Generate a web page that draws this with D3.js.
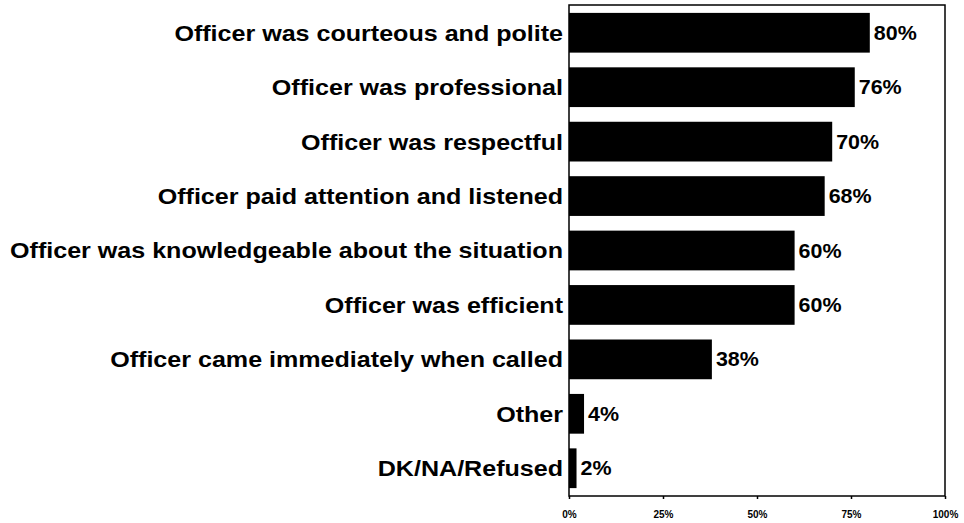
<!DOCTYPE html>
<html>
<head>
<meta charset="utf-8">
<script src="https://cdn.jsdelivr.net/npm/d3@7"></script>
<style>
  html, body { margin: 0; padding: 0; background: #fff; }
  svg { display: block; }
  text { font-family: "Liberation Sans", Arial, sans-serif; font-weight: bold; fill: #000; }
</style>
</head>
<body>
<svg id="chart" width="964" height="523"></svg>
<script>
const categories = [
  "Officer was courteous and polite",
  "Officer was professional",
  "Officer was respectful",
  "Officer paid attention and listened",
  "Officer was knowledgeable about the situation",
  "Officer was efficient",
  "Officer came immediately when called",
  "Other",
  "DK/NA/Refused"
];
const values = [80, 76, 70, 68, 60, 60, 38, 4, 2];
const tickValues = [0, 25, 50, 75, 100];
const tickLabels = ["0%", "25%", "50%", "75%", "100%"];

const svg = d3.select("#chart");
const margin = { left: 569, right: 19, top: 5, bottom: 27 };
const W = 964, H = 523;

const x = d3.scaleLinear().domain([0, 100]).range([margin.left, W - margin.right]);
const y = d3.scaleBand().domain(categories).range([margin.top, H - margin.bottom])
  .paddingInner(0.27).paddingOuter(0.145);

// Bars
svg.append("g").selectAll("rect").data(values).join("rect")
  .attr("x", x(0))
  .attr("y", (d, i) => y(categories[i]))
  .attr("width", d => x(d) - x(0))
  .attr("height", y.bandwidth())
  .attr("fill", "#000");

// Frame
svg.append("rect")
  .attr("x", x(0)).attr("y", margin.top)
  .attr("width", x(100) - x(0)).attr("height", H - margin.bottom - margin.top)
  .attr("fill", "none").attr("stroke", "#000").attr("stroke-width", 1.5);

// Category labels (horizontally stretched like the original)
const labelScale = 1.14;
svg.append("g").selectAll("g").data(categories).join("g")
  .attr("transform", d => `translate(${x(0) - 6},${y(d) + y.bandwidth() / 2}) scale(${labelScale},1)`)
  .append("text")
  .attr("text-anchor", "end")
  .attr("dy", "0.36em")
  .style("font-size", "22px")
  .text(d => d);

// Value labels
const valScale = 1.1;
svg.append("g").selectAll("g").data(values).join("g")
  .attr("transform", (d, i) => `translate(${x(d) + 4},${y(categories[i]) + y.bandwidth() / 2}) scale(${valScale},1)`)
  .append("text")
  .attr("dy", "0.36em")
  .style("font-size", "19.5px")
  .text(d => d + "%");

// X axis
const axis = d3.axisBottom(x).tickValues(tickValues)
  .tickFormat((d, i) => tickLabels[i]).tickSize(3).tickPadding(12);
const gx = svg.append("g").attr("transform", `translate(0,${H - margin.bottom})`).call(axis);
gx.select(".domain").remove();
gx.selectAll(".tick line").attr("stroke", "#000").attr("stroke-width", 1.5);
gx.selectAll(".tick text")
  .style("font-size", "10px")
  .style("font-family", "'Liberation Sans', Arial, sans-serif")
  .style("font-weight", "bold")
  .attr("fill", "#000");
</script>
</body>
</html>
